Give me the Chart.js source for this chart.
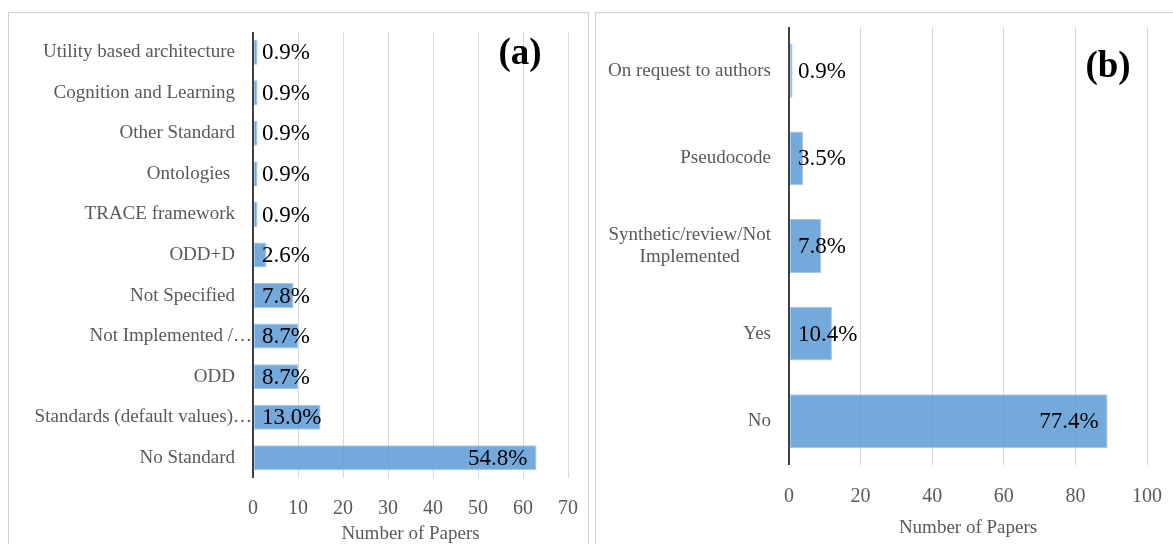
<!DOCTYPE html>
<html><head><meta charset="utf-8">
<script src="https://cdn.jsdelivr.net/npm/chart.js@4"></script>
<style>
html,body{margin:0;padding:0;background:#fff;width:1173px;height:544px;overflow:hidden;}
.panel{position:absolute;border:1px solid #d0d0d0;box-sizing:border-box;}
canvas{position:absolute;}
</style></head><body>
<div class="panel" style="left:8px;top:12px;width:581px;height:560px;"></div>
<div class="panel" style="left:595px;top:12px;width:600px;height:560px;"></div>
<canvas id="ca" width="578" height="533" style="left:9px;top:13px"></canvas>
<canvas id="cb" width="577" height="533" style="left:596px;top:13px"></canvas>
<script>
// ---- Panel (a): modelling standards ----
const standardCategories = ['Utility based architecture', 'Cognition and Learning', 'Other Standard', 'Ontologies ', 'TRACE framework', 'ODD+D', 'Not Specified', 'Not Implemented /\u2026', 'ODD', 'Standards (default values)\u2026', 'No Standard'];
const standardCounts = [1, 1, 1, 1, 1, 3, 9, 10, 10, 15, 63];
const standardPercentLabels = ['0.9%', '0.9%', '0.9%', '0.9%', '0.9%', '2.6%', '7.8%', '8.7%', '8.7%', '13.0%', '54.8%'];
const standardTicks = [0, 10, 20, 30, 40, 50, 60, 70];

// ---- Panel (b): code availability ----
const codeCategories = ['On request to authors', 'Pseudocode', ['Synthetic/review/Not', 'Implemented'], 'Yes', 'No'];
const codeCounts = [1, 4, 9, 12, 89];
const codePercentLabels = ['0.9%', '3.5%', '7.8%', '10.4%', '77.4%'];
const codeTicks = [0, 20, 40, 60, 80, 100];

const axisTitle = 'Number of Papers';
const SERIF = '"Liberation Serif", "DejaVu Serif", serif';

// category labels (Excel style: truncated labels run up to the axis, wrapped labels centred)
const catLabels = {
  id: 'catLabels',
  afterDraw(chart) {
    const ys = chart.scales.y;
    const ctx = chart.ctx;
    ctx.save();
    ctx.font = '19px ' + SERIF;
    ctx.fillStyle = '#595959';
    ctx.textBaseline = 'middle';
    chart.data.labels.forEach((lab, i) => {
      const py = ys.getPixelForTick(i);
      const lines = Array.isArray(lab) ? lab : [lab];
      const truncated = lines[lines.length - 1].endsWith('\u2026');
      const right = ys.right - (truncated ? 1 : 18);
      if (lines.length === 1) {
        ctx.textAlign = 'right';
        ctx.fillText(lines[0], right, py);
      } else {
        const w = Math.max(...lines.map(l => ctx.measureText(l).width));
        const cx = right - w / 2;
        ctx.textAlign = 'center';
        lines.forEach((l, k) => ctx.fillText(l, cx, py + (k - (lines.length - 1) / 2) * 22));
      }
    });
    ctx.restore();
  }
};

const valueLabels = {
  id: 'valueLabels',
  afterDatasetsDraw(chart, args, opts) {
    const ctx = chart.ctx;
    const meta = chart.getDatasetMeta(0);
    const vals = chart.data.datasets[0].data;
    const maxV = Math.max(...vals);
    ctx.save();
    ctx.font = '23px ' + SERIF;
    ctx.fillStyle = '#000';
    ctx.textBaseline = 'middle';
    meta.data.forEach((bar, i) => {
      const p = bar.getProps(['x', 'y', 'base'], true);
      if (vals[i] === maxV) {
        ctx.textAlign = 'right';
        ctx.fillText(opts.labels[i], p.x - 9, p.y + 1);
      } else {
        ctx.textAlign = 'left';
        ctx.fillText(opts.labels[i], p.base + 8, p.y + 1);
      }
    });
    ctx.font = 'bold 37px ' + SERIF;
    ctx.textAlign = 'center';
    ctx.fillText(opts.panel, opts.panelX, opts.panelY);
    ctx.restore();
  }
};

function makeChart(id, cats, vals, pct, ticks, cfg) {
  return new Chart(document.getElementById(id), {
    type: 'bar',
    data: {
      labels: cats,
      datasets: [{
        data: vals,
        backgroundColor: 'rgba(91,155,213,0.85)',
        borderColor: 'rgba(160,198,232,0.95)',
        borderWidth: 1,
        borderSkipped: false,
        categoryPercentage: 1,
        barPercentage: 0.615
      }]
    },
    plugins: [valueLabels, catLabels],
    options: {
      indexAxis: 'y',
      responsive: false,
      animation: false,
      devicePixelRatio: 1,
      layout: { padding: { top: cfg.padTop, right: cfg.padRight, left: 0, bottom: 0 } },
      plugins: {
        legend: { display: false },
        tooltip: { enabled: false },
        valueLabels: { labels: pct, panel: cfg.panel, panelX: cfg.panelX, panelY: cfg.panelY }
      },
      scales: {
        x: {
          type: 'linear',
          min: ticks[0],
          max: ticks[ticks.length - 1],
          ticks: { stepSize: ticks[1] - ticks[0], padding: cfg.tickPad, color: '#595959', font: { family: SERIF, size: 20 } },
          grid: {
            drawTicks: false,
            color: c => (c.tick && c.tick.value === 0) ? '#404040' : '#d9d9d9',
            lineWidth: c => (c.tick && c.tick.value === 0) ? 2 : 1
          },
          border: { display: false },
          title: { display: true, text: axisTitle, color: '#595959', font: { family: SERIF, size: 19 }, padding: { top: 0, bottom: cfg.titlePad } },
          afterFit: s => { s.height = cfg.xHeight; s.paddingLeft = 0; s.paddingRight = 0; }
        },
        y: {
          ticks: { display: false },
          grid: { display: false, drawTicks: false },
          border: { display: false },
          afterFit: s => { s.width = cfg.axisWidth; s.paddingTop = 0; s.paddingBottom = 0; }
        }
      }
    }
  });
}

makeChart('ca', standardCategories, standardCounts, standardPercentLabels, standardTicks,
  { axisWidth: 244, padTop: 19, padRight: 19, xHeight: 68, tickPad: 19, titlePad: 1, panel: '(a)', panelX: 511, panelY: 41 });
makeChart('cb', codeCategories, codeCounts, codePercentLabels, codeTicks,
  { axisWidth: 193, padTop: 14, padRight: 26, xHeight: 81, tickPad: 20, titlePad: 7, panel: '(b)', panelX: 512, panelY: 54 });
</script>
</body></html>
